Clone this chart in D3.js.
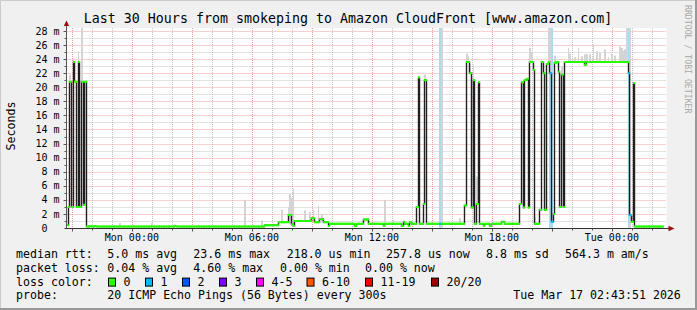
<!DOCTYPE html>
<html>
<head>
<meta charset="utf-8">
<script src="https://d3js.org/d3.v7.min.js"></script>
<style>
  body { margin: 0; background: #f0f0f0; }
  svg text { font-family: "DejaVu Sans Mono", monospace; white-space: pre; }
</style>
</head>
<body>
<div id="chart"></div>
<script>
// graph window: 30 hours ending Tue Mar 17 02:43:51, 5 minute steps
const startTime = new Date(2026, 2, 15, 20, 43, 51);
const endTime = new Date(2026, 2, 17, 2, 43, 51);
const stepSec = 300;
const lastStep = 357;

// median rtt (ms), as change points: step index where a new value starts
const medianStep = [0, 1, 2, 3, 4, 5, 6, 7, 8, 9, 10, 11, 12, 14, 15, 17, 18, 65, 66,
  119, 127, 133, 135, 136, 137, 147, 149, 152, 154, 157, 158, 173, 174, 178, 181, 190, 191,
  201, 202, 203, 205, 206, 207, 210, 211, 212, 214, 215, 216,
  239, 240, 242, 243, 244, 245, 246, 247, 248, 250, 251, 254, 255, 261, 263,
  272, 273, 274, 275, 276, 277, 278, 280, 281, 284, 285, 286, 287, 288, 289, 290, 291,
  292, 293, 294, 295, 296, 297, 298, 299, 311, 312, 337, 338, 339, 340, 341];
const medianMs = [0.4, 3.0, 20.8, 3.0, 23.6, 20.8, 3.0, 23.6, 3.0, 20.8, 3.3, 20.8, 0.2, 0.3, 0.2, 0.3, 0.2, 0.3, 0.2,
  0.4, 0.8, 1.85, 0.5, 0.3, 1.0, 1.4, 0.8, 1.25, 0.8, 0.3, 0.6, 0.3, 0.6, 1.2, 0.6, 0.3, 0.6,
  0.3, 0.9, 0.6, 0.3, 0.8, 0.6, 3.0, 21.4, 0.6, 3.4, 21.0, 0.6,
  3.2, 23.6, 22.0, 2.9, 21.0, 0.6, 3.4, 20.7, 0.6, 0.3, 0.6, 0.3, 0.6, 0.9, 0.6,
  3.4, 20.7, 2.9, 21.0, 21.2, 2.9, 23.6, 22.5, 0.6, 2.6, 23.6, 22.0, 2.6, 23.3, 23.6, 22.0, 0.9,
  2.0, 23.5, 23.6, 22.2, 3.0, 21.8, 3.0, 23.6, 23.2, 23.6, 22.0, 1.8, 0.9, 20.6, 0.2];

// steps with packet loss (lost pings out of 20)
const lossStep = [224, 290, 291, 337, 338];
const lossCount = [1, 1, 1, 1, 1];

// smoke: spread of the 20 pings per step (ms)
const smokeStep = [2, 4, 7, 9, 32, 51, 65, 107, 117, 129, 133, 134, 135, 136, 143, 146, 148, 151, 153,
  191, 196, 215, 225, 236, 240, 241, 242, 244, 246, 278, 279, 281, 289, 290, 293, 297,
  301, 302, 305, 307, 309, 311, 312, 314, 316, 318, 320, 323, 325, 327, 329, 332, 333, 334, 335, 336, 338];
const smokeMin = [20.8, 23.6, 23.6, 20.8, 0.2, 0.2, 0.3, 0.2, 0.2, 0.8, 1.85, 0.5, 0.5, 0.3, 1.0, 1.0, 1.0, 0.8, 0.8,
  0.6, 0.6, 21.0, 0.0, 0.6, 23.6, 23.6, 22.0, 21.0, 3.3, 23.6, 23.6, 0.6, 23.6, 22.0, 23.5, 21.8,
  23.6, 23.6, 23.6, 23.6, 23.6, 23.2, 23.6, 23.6, 23.6, 23.6, 23.6, 23.6, 23.6, 23.6, 23.6, 23.6, 23.6, 23.6, 23.6, 23.6, 0.0];
const smokeMax = [21.8, 24.1, 25.1, 28.5, 0.7, 0.7, 0.5, 4.0, 1.1, 2.6, 3.0, 4.8, 4.3, 5.6, 2.5, 2.3, 2.6, 3.2, 2.0,
  4.0, 1.2, 21.8, 28.5, 1.4, 24.8, 24.4, 23.3, 23.2, 7.3, 25.6, 25.0, 1.6, 28.5, 28.5, 24.5, 23.0,
  25.6, 24.8, 24.3, 25.6, 24.4, 24.7, 24.7, 24.7, 26.0, 25.1, 24.9, 25.4, 24.3, 24.7, 24.5, 25.8, 25.6, 25.2, 25.4, 28.5, 28.5];

const lossLabels = ["0", "1", "2", "3", "4-5", "6-10", "11-19", "20/20"];
const lossColors = ["#26ff00", "#00b8ff", "#0059ff", "#7e00ff", "#ff00ff", "#ff5500", "#ff0000", "#a10000"];
const lossBarColors = ["none", "#a9dcf2"];

const titleText = "Last 30 Hours from smokeping to Amazon CloudFront [www.amazon.com]";
const rttRow = ["median rtt:", "5.0 ms avg", "23.6 ms max", "218.0 us min", "257.8 us now", "8.8 ms sd", "564.3 m am/s"];
const lossRow = ["packet loss:", "0.04 % avg", "4.60 % max", "0.00 % min", "0.00 % now"];
const probeRow = ["probe:", "20 ICMP Echo Pings (56 Bytes) every 300s", "Tue Mar 17 02:43:51 2026"];

const W = 697, H = 310;
const pL = 66.5, pR = 666.5, pT = 28, pB = 228;

const svg = d3.select("#chart").append("svg")
  .attr("width", W).attr("height", H);

// background and 3d frame
svg.append("rect").attr("width", W).attr("height", H).attr("fill", "#f0f0f0");
svg.append("path").attr("d", `M0.5,${H} V0.5 H${W}`).attr("fill", "none").attr("stroke", "#cbcbcb");
svg.append("path").attr("d", `M0,${H - 1} H${W - 1} V0`).attr("fill", "none").attr("stroke", "#999").attr("stroke-width", 2);

var x = d3.scaleTime().domain([startTime, endTime]).range([pL, pR]);
var y = d3.scaleLinear().domain([0, 200 / 7.036]).range([pB, pT]);

const tAt = i => new Date(startTime.getTime() + i * stepSec * 1000);
const px = i => Math.floor(x(tAt(i))) + 0.5;

svg.append("rect").attr("x", pL).attr("y", pT).attr("width", pR - pL).attr("height", pB - pT).attr("fill", "#fff");

svg.append("clipPath").attr("id", "plot").append("rect")
  .attr("x", pL).attr("y", pT).attr("width", pR - pL).attr("height", pB - pT);

const grid = svg.append("g").attr("fill", "none");

// vertical grid: hourly minor, 3-hourly major
const hours = d3.timeHour.range(startTime, endTime);
hours.forEach(h => {
  const major = h.getHours() % 3 === 0;
  const xx = Math.round(x(h)) + 0.5;
  grid.append("line").attr("x1", xx).attr("x2", xx).attr("y1", pT).attr("y2", pB)
    .attr("stroke", major ? "#f0a0a0" : "#c4c4c4").attr("stroke-dasharray", "1,1");
  grid.append("line").attr("x1", xx).attr("x2", xx).attr("y1", pB + 0.5).attr("y2", pB + (major ? 3.5 : 2.5))
    .attr("stroke", "#555");
});

// horizontal grid: 1 ms minor, 2 ms major
d3.range(1, 29).forEach(v => {
  const major = v % 2 === 0;
  const yy = Math.round(y(v)) + 0.5;
  grid.append("line").attr("x1", pL).attr("x2", pR).attr("y1", yy).attr("y2", yy)
    .attr("stroke", major ? "#f0a0a0" : "#c4c4c4").attr("stroke-dasharray", "1,1");
  grid.append("line").attr("x1", pL - (major ? 3 : 2)).attr("x2", pL).attr("y1", yy).attr("y2", yy)
    .attr("stroke", "#555");
});

const plot = svg.append("g").attr("clip-path", "url(#plot)");

// loss bars
plot.selectAll(".lossbar").data(lossStep).enter().append("rect")
  .attr("x", d => px(d) - 0.5)
  .attr("width", d => px(d + 1) - px(d))
  .attr("y", pT).attr("height", pB - pT)
  .attr("fill", (d, k) => lossBarColors[Math.min(lossCount[k], 1)]);

// smoke
plot.selectAll(".smoke").data(smokeStep).enter().append("rect")
  .attr("x", d => px(d) - 0.5)
  .attr("width", d => px(d + 1) - px(d))
  .attr("y", (d, k) => y(smokeMax[k]))
  .attr("height", (d, k) => y(smokeMin[k]) - y(smokeMax[k]))
  .attr("fill", "#d4d4d4");

// expand median runs to one value per step
const med = [];
let c = 0;
for (let i = 0; i <= lastStep; i++) {
  while (c + 1 < medianStep.length && medianStep[c + 1] <= i) c++;
  const li = lossStep.indexOf(i);
  med.push({ i: i, v: medianMs[c], loss: li < 0 ? 0 : lossCount[li] });
}

const pts = med.map(d => [px(d.i), y(d.v)]);
pts.push([px(lastStep + 1), y(med[med.length - 1].v)]);

plot.append("path")
  .attr("d", d3.line().curve(d3.curveStepAfter)(pts))
  .attr("fill", "none").attr("stroke", "#202020").attr("stroke-width", 1.4);

plot.selectAll(".med").data(med).enter().append("line")
  .attr("x1", d => px(d.i) - 0.5)
  .attr("x2", d => px(d.i + 1) + 0.5)
  .attr("y1", d => y(d.v)).attr("y2", d => y(d.v))
  .attr("stroke", d => lossColors[d.loss])
  .attr("stroke-width", 2);

// axes with arrows
svg.append("line").attr("x1", pL).attr("x2", pL).attr("y1", pB + 0.5).attr("y2", 25)
  .attr("stroke", "#555");
svg.append("line").attr("x1", pL - 2).attr("x2", 669).attr("y1", pB + 0.5).attr("y2", pB + 0.5)
  .attr("stroke", "#333");
svg.append("path").attr("d", `M${pL},20.5 L${pL + 2.7},26 L${pL - 2.7},26 Z`).attr("fill", "#9b1010");
svg.append("path").attr("d", `M674.5,${pB + 0.5} L668.5,${pB - 2.2} L668.5,${pB + 3.2} Z`).attr("fill", "#9b1010");

// axis labels
const fmt = d3.timeFormat("%a %H:%M");
svg.selectAll(".xl").data(hours.filter(h => h.getHours() % 6 === 0)).enter().append("text")
  .attr("x", d => x(d)).attr("y", 241)
  .attr("text-anchor", "middle").attr("font-size", "10px").attr("fill", "#000")
  .text(d => fmt(d));

svg.selectAll(".yl").data(d3.range(0, 29, 2)).enter().append("text")
  .attr("x", 59.5).attr("y", d => y(d) + 3.6)
  .attr("text-anchor", "end").attr("font-size", "10px").attr("fill", "#000")
  .text(d => d === 0 ? " 0  " : String(d).padStart(2, " ") + " m");

svg.append("text").attr("transform", "translate(15,126) rotate(-90)")
  .attr("text-anchor", "middle").attr("font-size", "11.6px").text("Seconds");

svg.append("text").attr("transform", "translate(685,5) rotate(90)")
  .attr("font-size", "8.2px").attr("fill", "#a8a8a8").text("RRDTOOL / TOBI OETIKER");

svg.append("text").attr("x", 348).attr("y", 23).attr("text-anchor", "middle")
  .attr("font-size", "13.3px").text(titleText);

// legend
const legend = svg.append("g").attr("font-size", "11.6px").attr("fill", "#000");
const rowY = [258, 271.8, 285.6, 299.4];
const rttX = [16, 107.3, 193.3, 286.7, 386, 486, 565];
const lossX = [16, 107.3, 193.3, 280, 365];
const probeX = [16, 107.3, 513.3];
rttRow.forEach((s, k) => legend.append("text").attr("x", rttX[k]).attr("y", rowY[0]).text(s));
lossRow.forEach((s, k) => legend.append("text").attr("x", lossX[k]).attr("y", rowY[1]).text(s));
legend.append("text").attr("x", 16).attr("y", rowY[2]).text("loss color:");
const boxX = [108.5, 145.5, 182.5, 219.5, 256.5, 307, 365.5, 431.5];
lossLabels.forEach((s, k) => {
  legend.append("rect").attr("x", boxX[k]).attr("y", rowY[2] - 7.5).attr("width", 7).attr("height", 8)
    .attr("fill", lossColors[k]).attr("stroke", "#000");
  legend.append("text").attr("x", boxX[k] + 15).attr("y", rowY[2]).text(s);
});
probeRow.forEach((s, k) => legend.append("text").attr("x", probeX[k]).attr("y", rowY[3]).text(s));
</script>
</body>
</html>
